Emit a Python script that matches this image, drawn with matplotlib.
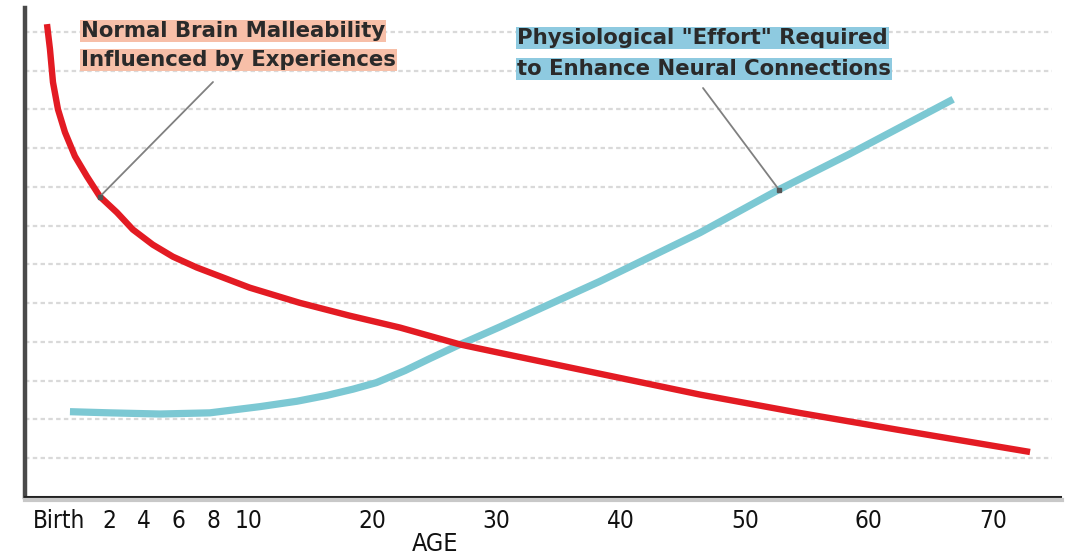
import numpy as np
import matplotlib
matplotlib.use('Agg')
import matplotlib.pyplot as plt
from matplotlib.lines import Line2D

# dati (eta' in anni, valori in unita' di griglia)
red_age = [-0.48, -0.36, -0.24, -0.04, 0.24, 0.64, 1.12, 1.64, 2.46, 3.37, 4.51,
           5.66, 7.03, 10.08, 14.1, 18.1, 22.2, 27.1, 30.2, 38.3, 46.4, 54.4,
           62.4, 73.0]
red_val = [12.2, 11.55, 10.7, 10.0, 9.41, 8.79, 8.27, 7.75, 7.34, 6.9, 6.51,
           6.2, 5.92, 5.4, 5.01, 4.68, 4.37, 3.93, 3.72, 3.18, 2.64, 2.17,
           1.73, 1.16]

blue_age = [0.44, 2.06, 4.91, 7.77, 10.9, 13.9, 16.3, 18.4, 20.3, 22.6, 24.6,
            26.8, 30.2, 38.3, 46.4, 52.75, 58.4, 66.8]
blue_val = [2.2, 2.17, 2.14, 2.17, 2.33, 2.47, 2.62, 2.78, 2.95, 3.26, 3.57,
            3.9, 4.38, 5.56, 6.82, 7.93, 8.84, 10.26]

tick_ages = [0, 2, 4, 6, 8, 10, 20, 30, 40, 50, 60, 70]
tick_labels = ['Birth', '2', '4', '6', '8', '10', '20', '30', '40', '50', '60', '70']

red_label = ['Normal Brain Malleability', 'Influenced by Experiences']
blue_label = ['Physiological "Effort" Required', 'to Enhance Neural Connections']

# scala dell'asse x: i primi anni sono piu' larghi
knots_age = [-10, 0, 2, 10, 100]
knots_pos = [-250, 0, 50, 190, 1307.8]

def fwd(a):
    return np.interp(a, knots_age, knots_pos)

def inv(p):
    return np.interp(p, knots_pos, knots_age)

fig = plt.figure(figsize=(10.69, 5.59), dpi=100)
ax = fig.add_axes([0.0234, 0.111, 0.968, 0.875])
ax.set_xscale('function', functions=(fwd, inv))
ax.set_xlim(-1.36, 75.4)
ax.set_ylim(0, 12.62)

# griglia tratteggiata
for g in range(1, 13):
    ax.axhline(g, xmin=0, xmax=0.992, color='#d9d9d9', lw=1.6, ls=(0, (2, 1.5)), zorder=1)

ax.plot(red_age, red_val, color='#e31b23', lw=4.6, solid_capstyle='butt', zorder=3)
ax.plot(blue_age, blue_val, color='#7cc8d3', lw=5.2, solid_capstyle='butt', zorder=2)

# assi
for s in ['top', 'right']:
    ax.spines[s].set_visible(False)
ax.spines['left'].set_color('#4a4a4a')
ax.spines['left'].set_linewidth(3.2)
ax.spines['bottom'].set_color('#222222')
ax.spines['bottom'].set_linewidth(2.2)
# ombra grigia sotto l'asse x
fig.add_artist(Line2D([0.0234, 0.993], [0.1055, 0.1055], color='#c8c8c8', lw=3.0))

# font stretto per le etichette dell'asse x
tick_font = ['DejaVu Sans']
ax.set_yticks([])
ax.set_xticks(tick_ages)
ax.set_xticklabels(tick_labels)
ax.tick_params(axis='x', length=0, pad=9)
for t in ax.get_xticklabels():
    t.set_fontfamily(tick_font)
    t.set_fontstretch('condensed')
    t.set_fontsize(17.5)
    t.set_color('#111111')
ax.set_xlabel('AGE', fontsize=18, color='#111111', family=tick_font, fontstretch='condensed')
ax.xaxis.set_label_coords(0.396, -0.072)

# etichette con sfondo colorato
lab_font = dict(fontsize=15.3, fontweight='bold', color='#2a2a2a', family='DejaVu Sans',
                va='center', ha='left', transform=fig.transFigure, zorder=5)
for i, txt in enumerate(red_label):
    fig.text(81 / 1069, 1 - (31 + 29 * i) / 559, txt,
             bbox=dict(boxstyle='square,pad=0.05', fc='#f7bfa8', ec='none'), **lab_font)
for i, txt in enumerate(blue_label):
    fig.text(517 / 1069, 1 - (38 + 31 * i) / 559, txt,
             bbox=dict(boxstyle='square,pad=0.05', fc='#8ecae0', ec='none'), **lab_font)

# linee di richiamo
ax.annotate('', xy=(1.64, 7.75), xycoords='data',
            xytext=(213 / 1069, 1 - 82 / 559), textcoords='figure fraction',
            arrowprops=dict(arrowstyle='-', color='#808080', lw=1.3, shrinkA=0, shrinkB=0))
ax.plot([1.64], [7.75], 's', color='#555555', ms=3, zorder=4)
ax.annotate('', xy=(52.75, 7.93), xycoords='data',
            xytext=(703 / 1069, 1 - 88 / 559), textcoords='figure fraction',
            arrowprops=dict(arrowstyle='-', color='#808080', lw=1.3, shrinkA=0, shrinkB=0))
ax.plot([52.75], [7.93], 's', color='#555555', ms=3, zorder=4)

plt.savefig('out.png', dpi=100)
